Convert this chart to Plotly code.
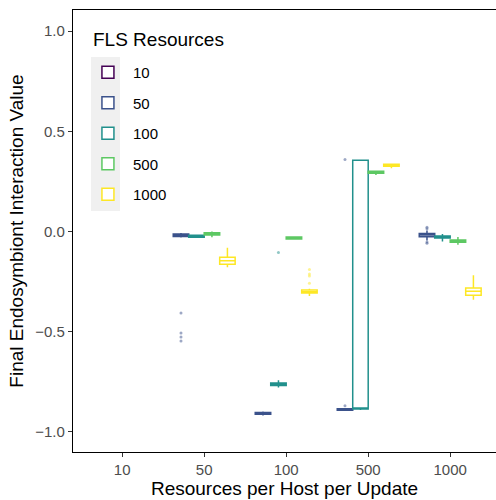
import plotly.graph_objects as go

# ---- data ----
x_categories = ["10", "50", "100", "500", "1000"]
present_x = ["50", "100", "500", "1000"]
fls_groups = ["10", "50", "100", "500", "1000"]
colors = ["#440154", "#3B528B", "#21908C", "#5DC863", "#FDE725"]

# FLS 50
q1_50 = [-0.025, -0.912, -0.892, -0.026]
med_50 = [-0.018, -0.907, -0.888, -0.018]
q3_50 = [-0.012, -0.903, -0.884, -0.010]
lf_50 = [-0.030, -0.918, -0.895, -0.045]
uf_50 = [-0.008, -0.898, -0.880, 0.005]
out_50 = [[-0.407, -0.506, -0.526, -0.546], [], [0.359, -0.869], [0.021, 0.014, -0.052, -0.058]]

# FLS 100
q1_100 = [-0.029, -0.768, -0.885, -0.033]
med_100 = [-0.024, -0.762, -0.881, -0.028]
q3_100 = [-0.019, -0.756, 0.355, -0.022]
lf_100 = [-0.032, -0.778, -0.890, -0.050]
uf_100 = [-0.016, -0.742, 0.358, -0.013]
out_100 = [[], [-0.105], [], []]

# FLS 500
q1_500 = [-0.018, -0.038, 0.291, -0.053]
med_500 = [-0.012, -0.032, 0.296, -0.047]
q3_500 = [-0.006, -0.027, 0.301, -0.042]
lf_500 = [-0.029, -0.041, 0.282, -0.066]
uf_500 = [0.000, -0.024, 0.304, -0.028]
out_500 = [[], [], [], []]

# FLS 1000
q1_1000 = [-0.163, -0.307, 0.325, -0.318]
med_1000 = [-0.146, -0.300, 0.330, -0.298]
q3_1000 = [-0.128, -0.292, 0.335, -0.282]
lf_1000 = [-0.178, -0.322, 0.316, -0.340]
uf_1000 = [-0.081, -0.285, 0.338, -0.218]
out_1000 = [[], [-0.189, -0.212, -0.222, -0.258], [], []]

stats = {
    "50": (q1_50, med_50, q3_50, lf_50, uf_50, out_50),
    "100": (q1_100, med_100, q3_100, lf_100, uf_100, out_100),
    "500": (q1_500, med_500, q3_500, lf_500, uf_500, out_500),
    "1000": (q1_1000, med_1000, q3_1000, lf_1000, uf_1000, out_1000),
}

legend_title = "FLS Resources"
FONT = "Liberation Sans, Arial, sans-serif"

fig = go.Figure()
for g, c in zip(fls_groups, colors):
    common = dict(
        name=g, legendgroup=g, offsetgroup=g,
        line=dict(color=c, width=1.5), fillcolor="white",
        whiskerwidth=0, jitter=0, pointpos=0,
        marker=dict(color=c, size=3, opacity=0.5),
        hoverinfo="skip",
    )
    if g not in stats:
        fig.add_trace(go.Box(x=["10"], y=[None], alignmentgroup="legend",
                             boxpoints=False, showlegend=True, **common))
        continue
    q1, med, q3, lf, uf, outs = stats[g]
    for i, xc in enumerate(present_x):
        kw = dict(x=[xc], q1=[q1[i]], median=[med[i]], q3=[q3[i]],
                  lowerfence=[lf[i]], upperfence=[uf[i]])
        if outs[i]:
            kw["y"] = [outs[i]]
            kw["boxpoints"] = "outliers"
        else:
            kw["boxpoints"] = False
        fig.add_trace(go.Box(alignmentgroup="cat" + xc,
                             showlegend=(i == 0), **kw, **common))

W, H = 496, 500
ML, MR, MT, MB = 73, 0, 10, 48
plot_w = W - ML - MR
plot_h = H - MT - MB
px_per_cat = 82.0

fig.update_layout(
    width=W, height=H,
    margin=dict(l=ML, r=MR, t=MT, b=MB),
    paper_bgcolor="white", plot_bgcolor="white",
    boxmode="group", boxgap=0.245, boxgroupgap=0.0,
    font=dict(family=FONT, color="black"),
    legend=dict(
        font=dict(size=15, color="black"),
        x=0.0235, y=(H - MB - 56) / plot_h, xanchor="left", yanchor="top",
        bgcolor="rgba(0,0,0,0)", tracegroupgap=8,
        traceorder="grouped", itemwidth=40,
    ),
    annotations=[dict(
        text=legend_title, xref="paper", yref="paper",
        x=(91 - ML) / plot_w, y=(H - MB - 40) / plot_h,
        xanchor="left", yanchor="middle", showarrow=False,
        font=dict(size=19, color="black"),
    )],
    xaxis=dict(
        type="category", categoryorder="array", categoryarray=x_categories,
        range=[-0.6, -0.6 + plot_w / px_per_cat],
        showline=True, linecolor="black", linewidth=1.3, mirror=True,
        ticks="outside", ticklen=4, tickcolor="#333333", tickwidth=1,
        tickfont=dict(size=15, color="#4d4d4d"),
        showgrid=False, zeroline=False,
        title=dict(text="Resources per Host per Update", font=dict(size=19), standoff=4),
    ),
    yaxis=dict(
        range=[-1.1, 1.105],
        tickvals=[-1.0, -0.5, 0.0, 0.5, 1.0], tickformat=".1f",
        showline=True, linecolor="black", linewidth=1.3, mirror=True,
        ticks="outside", ticklen=4, tickcolor="#333333", tickwidth=1,
        tickfont=dict(size=15, color="#4d4d4d"),
        showgrid=False, zeroline=False,
        title=dict(text="Final Endosymbiont Interaction Value", font=dict(size=19), standoff=6),
    ),
    shapes=[dict(
        type="rect", xref="paper", yref="paper",
        x0=(91 - ML) / plot_w, x1=(120 - ML) / plot_w,
        y0=(H - MB - 211) / plot_h, y1=(H - MB - 57) / plot_h,
        fillcolor="#f0f0f0", line=dict(width=0), layer="below",
    )],
)

fig.write_html("out.html")
